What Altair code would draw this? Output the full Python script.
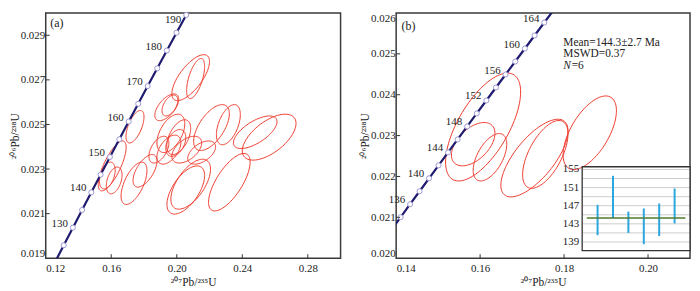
import math
import altair as alt
import pandas as pd

FONT = "Liberation Serif"
TXT = "#222222"

# ---------------- Panel (a) ----------------
# concordia reference points: age (Ma), 207Pb/235U, 206Pb/238U
A_AGE = [120, 125, 130, 135, 140, 145, 150, 155, 160, 165, 170, 175, 180, 185, 190, 195]
A_X = [0.125449, 0.131005, 0.136588, 0.142198, 0.147837, 0.153503, 0.159197, 0.164919,
       0.170670, 0.176449, 0.182256, 0.188092, 0.193957, 0.199851, 0.205774, 0.211726]
A_Y = [0.018789, 0.019580, 0.020371, 0.021163, 0.021955, 0.022748, 0.023542, 0.024336,
       0.025131, 0.025926, 0.026722, 0.027519, 0.028316, 0.029114, 0.029912, 0.030712]
A_MARK_AGES = [125, 130, 135, 140, 145, 150, 155, 160, 165, 170, 175, 180, 185, 190]
A_LABEL_AGES = [130, 140, 150, 160, 170, 180]
A_TOP_LABEL_AGES = [190]

# error ellipses: centre x, centre y, half-range x, half-range y, correlation
A_CX = [0.2085, 0.2115, 0.1939, 0.1958, 0.1745, 0.1606, 0.1576, 0.1618, 0.1739, 0.1806,
        0.2055, 0.2085, 0.2321, 0.2212, 0.2315, 0.2479, 0.2564, 0.1964, 0.2012, 0.1994,
        0.1952, 0.2061, 0.1891, 0.2152]
A_CY = [0.02710, 0.02706, 0.02577, 0.02585, 0.02490, 0.02314, 0.02271, 0.02249, 0.02236, 0.02292,
        0.02206, 0.02232, 0.02241, 0.02486, 0.02499, 0.02465, 0.02443, 0.02460, 0.02443, 0.02417,
        0.02387, 0.02387, 0.02387, 0.02374]
A_SX = [0.0115, 0.0055, 0.0073, 0.0048, 0.0055, 0.0085, 0.0048, 0.0048, 0.0079, 0.0073,
        0.0115, 0.0121, 0.0127, 0.0109, 0.0073, 0.0133, 0.0164, 0.0085, 0.0073, 0.0061,
        0.0073, 0.0091, 0.0061, 0.0085]
A_SY = [0.00103, 0.00090, 0.00060, 0.00047, 0.00073, 0.00112, 0.00060, 0.00060, 0.00095, 0.00073,
        0.00108, 0.00112, 0.00129, 0.00103, 0.00090, 0.00073, 0.00103, 0.00086, 0.00078, 0.00060,
        0.00065, 0.00060, 0.00060, 0.00052]
A_RHO = [0.70, 0.60, 0.60, 0.50, 0.60, 0.75, 0.40, 0.40, 0.60, 0.60,
         0.60, 0.60, 0.70, 0.60, 0.50, 0.65, 0.60, 0.50, 0.50, 0.40,
         0.50, 0.50, 0.50, 0.50]

A_XTICKS = [0.12, 0.16, 0.20, 0.24, 0.28]
A_YTICKS = [0.019, 0.021, 0.023, 0.025, 0.027, 0.029]

# ---------------- Panel (b) ----------------
B_AGE = [132, 134, 136, 138, 140, 142, 144, 146, 148, 150, 152, 154, 156, 158, 160, 162, 164, 166]
B_X = [0.138829, 0.141074, 0.143324, 0.145578, 0.147837, 0.150100, 0.152367, 0.154639, 0.156916,
       0.159197, 0.161482, 0.163773, 0.166067, 0.168366, 0.170670, 0.172978, 0.175291, 0.177608]
B_Y = [0.020688, 0.021004, 0.021321, 0.021638, 0.021955, 0.022272, 0.022589, 0.022907, 0.023224,
       0.023542, 0.023859, 0.024177, 0.024495, 0.024813, 0.025131, 0.025449, 0.025767, 0.026085]
B_MARK_AGES = [134, 136, 138, 140, 142, 144, 146, 148, 150, 152, 154, 156, 158, 160, 162, 164]
B_LABEL_AGES = [136, 140, 144, 148, 152, 156, 160, 164]

B_CX = [0.16071, 0.15835, 0.16235, 0.17294, 0.17553, 0.18612]
B_CY = [0.02321, 0.02279, 0.02247, 0.02245, 0.02254, 0.02307]
B_SX = [0.00894, 0.00518, 0.00400, 0.00800, 0.00540, 0.00635]
B_SY = [0.00132, 0.00053, 0.00058, 0.00095, 0.00083, 0.00090]
B_RHO = [0.65, 0.50, 0.55, 0.70, 0.60, 0.60]

B_XTICKS = [0.14, 0.16, 0.18, 0.20]
B_YTICKS = [0.020, 0.021, 0.022, 0.023, 0.024, 0.025, 0.026]

B_STATS = ["Mean=144.3±2.7 Ma", "MSWD=0.37"]

# inset: weighted-mean plot of the six ages
INSET_I = [1, 2, 3, 4, 5, 6]
INSET_LO = [140.5, 144.3, 141.0, 138.5, 140.3, 143.1]
INSET_HI = [147.2, 153.6, 145.7, 146.4, 147.5, 150.8]
INSET_MEAN = 144.3
INSET_LABELS = [139, 143, 147, 151, 155]
INSET_GRID = [139, 141, 143, 145, 147, 149, 151, 153, 155]
INSET_XDOM = [0, 7]
INSET_YDOM = [137.1, 155.6]

# ---------------- layout / style ----------------
WA, WB, H = 297, 296, 247
RED = "#ee3a2c"
NAVY = "#1f1b6e"


def ellipse_frame(cx, cy, sx, sy, rho, n=96):
    rows = []
    for i, (x0, y0, a, b, r) in enumerate(zip(cx, cy, sx, sy, rho)):
        s = math.sqrt(1 - r * r)
        for k in range(n + 1):
            t = 2 * math.pi * k / n
            rows.append({"id": i, "k": k,
                         "x": x0 + a * math.cos(t),
                         "y": y0 + b * (r * math.cos(t) + s * math.sin(t))})
    return pd.DataFrame(rows)


def make_axes(xvals, yvals, xfmt, yfmt):
    ax = alt.Axis(values=xvals, format=xfmt, title="²⁰⁷Pb/²³⁵U", grid=False, ticks=False,
                  domain=False, labelFlush=True, labelFont=FONT, labelFontSize=11,
                  labelColor=TXT, labelPadding=4, titleFont=FONT, titleFontSize=11.5,
                  titleFontWeight="normal", titleColor=TXT, titlePadding=3)
    ay = alt.Axis(values=yvals, format=yfmt, title="²⁰⁶Pb/²³⁸U", grid=False, ticks=False,
                  domain=False, labelFlush=True, labelFont=FONT, labelFontSize=11,
                  labelColor=TXT, labelPadding=1, titleFont=FONT, titleFontSize=11.5,
                  titleFontWeight="normal", titleColor=TXT, titlePadding=0)
    return ax, ay


def panel(width, xdom, ydom, xticks, yticks, yfmt, ages, cx_list, cy_list, mark_ages,
          label_ages, top_label_ages, ell, letter, letter_xy, inner_xticks, inner_yticks,
          extra=None):
    ax, ay = make_axes(xticks, yticks, ".2f", yfmt)
    xs = alt.Scale(domain=xdom, nice=False, zero=False)
    ys = alt.Scale(domain=ydom, nice=False, zero=False)
    X = lambda f="x": alt.X(f"{f}:Q", scale=xs, axis=ax)
    Y = lambda f="y": alt.Y(f"{f}:Q", scale=ys, axis=ay)

    curve = pd.DataFrame({"age": ages, "x": cx_list, "y": cy_list})
    marks = curve[curve["age"].isin(mark_ages)]
    labs = curve[curve["age"].isin(label_ages)]
    tlabs = curve[curve["age"].isin(top_label_ages)]

    layers = [
        alt.Chart(ell).mark_line(color=RED, strokeWidth=1, clip=True).encode(
            x=X(), y=Y(), detail="id:N", order="k:Q"),
        alt.Chart(curve).mark_line(color=NAVY, strokeWidth=2.2, clip=True).encode(
            x=X(), y=Y(), order="age:Q"),
        alt.Chart(marks).mark_circle(size=26, fill="white", stroke="#9d98d2",
                                     strokeWidth=1, opacity=1).encode(x=X(), y=Y()),
        alt.Chart(labs).mark_text(align="right", baseline="middle", dx=-5, dy=-4,
                                  font=FONT, fontSize=11, color=TXT).encode(
            x=X(), y=Y(), text="age:Q"),
    ]
    if len(tlabs):
        layers.append(alt.Chart(tlabs).mark_text(align="right", baseline="middle", dx=-5, dy=5,
                                                 font=FONT, fontSize=11, color=TXT).encode(
            x=X(), y=Y(), text="age:Q"))
    # inward ticks
    layers.append(alt.Chart(pd.DataFrame({"x": inner_xticks})).mark_rule(
        color="#333", strokeWidth=1).encode(x=X(), y=alt.value(H), y2=alt.value(H - 4)))
    layers.append(alt.Chart(pd.DataFrame({"y": inner_yticks})).mark_rule(
        color="#333", strokeWidth=1).encode(y=Y(), x=alt.value(0), x2=alt.value(4)))
    # panel letter
    layers.append(alt.Chart(pd.DataFrame({"x": [letter_xy[0]], "y": [letter_xy[1]], "t": [letter]}))
                  .mark_text(align="left", baseline="middle", font=FONT, fontSize=12, color=TXT)
                  .encode(x=X(), y=Y(), text="t:N"))
    if extra is not None:
        layers += extra(X, Y)
    return alt.layer(*layers).properties(width=width, height=H)


ell_a = ellipse_frame(A_CX, A_CY, A_SX, A_SY, A_RHO)
ell_b = ellipse_frame(B_CX, B_CY, B_SX, B_SY, B_RHO)

pa = panel(WA, [0.12, 0.30], [0.019, 0.030], A_XTICKS, A_YTICKS, ".3f",
           A_AGE, A_X, A_Y, A_MARK_AGES, A_LABEL_AGES, A_TOP_LABEL_AGES, ell_a,
           "(a)", (0.1228, 0.02955), [0.16, 0.20, 0.24, 0.28],
           [0.021, 0.023, 0.025, 0.027, 0.029])


def stats_layers(X, Y):
    st = pd.DataFrame({"x": [0.1798, 0.1798], "y": [0.02527, 0.02499], "t": B_STATS})
    n1 = pd.DataFrame({"x": [0.1798], "y": [0.02471], "t": ["N"]})
    n2 = pd.DataFrame({"x": [0.1798], "y": [0.02471], "t": ["=6"]})
    kw = dict(align="left", baseline="middle", font=FONT, fontSize=11.5, color=TXT)
    return [
        alt.Chart(st).mark_text(**kw).encode(x=X(), y=Y(), text="t:N"),
        alt.Chart(n1).mark_text(fontStyle="italic", **kw).encode(x=X(), y=Y(), text="t:N"),
        alt.Chart(n2).mark_text(dx=8.5, **kw).encode(x=X(), y=Y(), text="t:N"),
    ]


main_b = panel(WB, [0.14, 0.21], [0.020, 0.026], B_XTICKS, B_YTICKS, ".3f",
               B_AGE, B_X, B_Y, B_MARK_AGES, B_LABEL_AGES, [], ell_b,
               "(b)", (0.1413, 0.02567), [0.16, 0.18, 0.20],
               [0.021, 0.022, 0.023, 0.024, 0.025], extra=stats_layers)

# ---- inset (own scales, placed in the lower right of panel b) ----
ixs = alt.Scale(domain=INSET_XDOM, range=[0.633 * WB, WB], nice=False, zero=False)
iys = alt.Scale(domain=INSET_YDOM, range=[0.969 * H, 0.627 * H], nice=False, zero=False)
IX = lambda f: alt.X(f"{f}:Q", scale=ixs, axis=None)
IY = lambda f: alt.Y(f"{f}:Q", scale=iys, axis=None)
IX2 = lambda f: alt.X2(f"{f}:Q")
IY2 = lambda f: alt.Y2(f"{f}:Q")

box = pd.DataFrame({"x0": [INSET_XDOM[0]], "x1": [INSET_XDOM[1]],
                    "y0": [INSET_YDOM[0]], "y1": [INSET_YDOM[1]]})
grid = pd.DataFrame({"g": INSET_GRID, "x0": INSET_XDOM[0], "x1": INSET_XDOM[1]})
ilab = pd.DataFrame({"v": INSET_LABELS, "x0": INSET_XDOM[0]})
bars = pd.DataFrame({"i": INSET_I, "lo": INSET_LO, "hi": INSET_HI})
mean = pd.DataFrame({"m": [INSET_MEAN], "x0": [0.3], "x1": [6.7]})

inset = alt.layer(
    alt.Chart(box).mark_rect(fill="white", stroke="none").encode(
        x=IX("x0"), x2=IX2("x1"), y=IY("y0"), y2=IY2("y1")),
    alt.Chart(grid).mark_rule(color="#cdcdcd", strokeWidth=1).encode(
        x=IX("x0"), x2=IX2("x1"), y=IY("g")),
    alt.Chart(bars).mark_rule(color="#2ba6de", strokeWidth=2).encode(
        x=IX("i"), y=IY("lo"), y2=IY2("hi")),
    alt.Chart(mean).mark_rule(color="#4f7a2c", strokeWidth=1.6).encode(
        x=IX("x0"), x2=IX2("x1"), y=IY("m")),
    alt.Chart(box).mark_rect(fill=None, stroke="#333333", strokeWidth=1.3).encode(
        x=IX("x0"), x2=IX2("x1"), y=IY("y0"), y2=IY2("y1")),
    alt.Chart(ilab).mark_text(align="right", baseline="middle", dx=-3, font=FONT,
                              fontSize=11, color=TXT).encode(
        x=IX("x0"), y=IY("v"), text="v:Q"),
)

pb = alt.layer(main_b, inset).resolve_scale(x="independent", y="independent")

chart = (
    alt.hconcat(pa, pb, spacing=17)
    .properties(padding={"left": 0, "right": 0, "top": 0, "bottom": 0})
    .configure_view(stroke="#3a3a3a", strokeWidth=1.5)
)

chart.save("out.html", embed_options={"renderer": "svg", "actions": False})
